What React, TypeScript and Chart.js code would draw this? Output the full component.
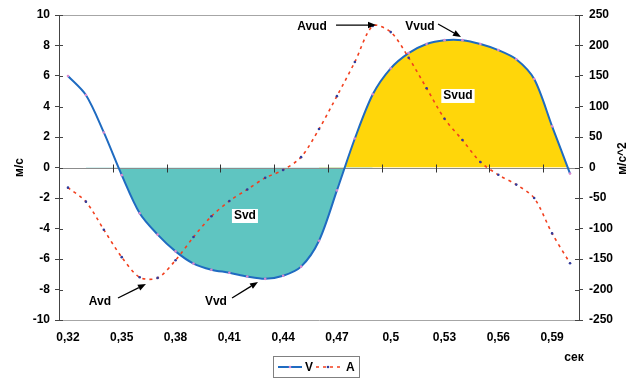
import React, { useEffect, useRef } from 'react';
import { Chart, registerables } from 'chart.js';

Chart.register(...registerables);

// ---- data ----
const categories = [
  '0,32', '0,33', '0,34', '0,35', '0,36', '0,37', '0,38', '0,39', '0,4', '0,41',
  '0,42', '0,43', '0,44', '0,45', '0,46', '0,47', '0,48', '0,49', '0,5', '0,51',
  '0,52', '0,53', '0,54', '0,55', '0,56', '0,57', '0,58', '0,59', '0,6',
];
const velocity = [
  6.0, 4.75, 2.3, -0.5, -3.0, -4.4, -5.5, -6.3, -6.7, -6.9,
  -7.15, -7.3, -7.1, -6.5, -4.8, -1.5, 1.9, 4.8, 6.5, 7.5,
  8.1, 8.35, 8.35, 8.1, 7.7, 7.1, 5.8, 2.7, -0.4,
];
const acceleration = [
  -33, -56, -102, -147, -180, -181, -152, -114, -80, -55,
  -36, -17, -4, 17, 63, 117, 173, 232, 222, 180,
  130, 80, 45, 9, -12, -28, -50, -108, -157,
];
const leftAxis = { min: -10, max: 10, step: 2, title: 'м/с' };
const rightAxis = { min: -250, max: 250, step: 50, title: 'м/с^2' };
const xTitle = 'сек';
const labelEvery = 3;
const seriesNames = ['V', 'A'];

// annotations, positioned in (category index, left-axis value)
const annotations = [
  { text: 'Svd', at: [9.87, -3.18], boxed: true },
  { text: 'Svud', at: [21.75, 4.69], boxed: true },
  { text: 'Avd', at: [1.78, -8.82], from: [2.79, -8.56], to: [4.35, -7.64] },
  { text: 'Vvd', at: [8.25, -8.82], from: [9.15, -8.56], to: [10.6, -7.5] },
  { text: 'Avud', at: [13.61, 9.21], from: [14.95, 9.34], to: [17.18, 9.34] },
  { text: 'Vvud', at: [19.63, 9.21], from: [20.64, 9.41], to: [21.92, 8.56] },
];

// ---- styles ----
const FONT = "'Liberation Sans', Arial, sans-serif";
const BLUE = '#1F6BC1';
const RED = '#F2401F';
const TEAL = '#5FC5C1';
const YELLOW = '#FFD60A';
const CLEAR = 'rgba(0,0,0,0)';

// fill helpers derived from velocity
const n = velocity.length;
const firstNeg = velocity.findIndex((v) => v < 0);
let lastNeg = firstNeg;
while (lastNeg + 1 < n && velocity[lastNeg + 1] < 0) lastNeg++;
const firstPos = lastNeg + 1;
const negFill = velocity.map((v, i) => (i >= firstNeg - 2 && i <= lastNeg + 2 ? v : null));
const posFill = velocity.map((v, i) => (i >= firstPos - 2 ? v : null));

const TENSION = 0.3;

function drawArrow(ctx: CanvasRenderingContext2D, x1: number, y1: number, x2: number, y2: number) {
  const ang = Math.atan2(y2 - y1, x2 - x1);
  const len = 8;
  const hw = 3.2;
  const bx = x2 - len * Math.cos(ang);
  const by = y2 - len * Math.sin(ang);
  ctx.strokeStyle = '#000';
  ctx.fillStyle = '#000';
  ctx.lineWidth = 1.3;
  ctx.beginPath();
  ctx.moveTo(x1, y1);
  ctx.lineTo(bx, by);
  ctx.stroke();
  ctx.beginPath();
  ctx.moveTo(x2, y2);
  ctx.lineTo(bx + hw * Math.sin(ang), by - hw * Math.cos(ang));
  ctx.lineTo(bx - hw * Math.sin(ang), by + hw * Math.cos(ang));
  ctx.closePath();
  ctx.fill();
}

const decorPlugin = {
  id: 'decor',
  beforeDatasetsDraw(chart: any) {
    const { ctx, chartArea: a, scales } = chart;
    const xs = scales.x;
    const ys = scales.y;
    ctx.save();
    ctx.lineWidth = 1;
    // top border
    ctx.strokeStyle = '#A6A6A6';
    ctx.beginPath();
    ctx.moveTo(a.left, Math.round(a.top) + 0.5);
    ctx.lineTo(a.right, Math.round(a.top) + 0.5);
    ctx.stroke();
    // zero (category) axis line
    const y0 = Math.round(ys.getPixelForValue(0)) + 0.5;
    ctx.strokeStyle = '#8C8C8C';
    ctx.beginPath();
    ctx.moveTo(a.left, y0);
    ctx.lineTo(a.right, y0);
    ctx.stroke();
    ctx.strokeStyle = '#333';
    for (let k = 1; k * labelEvery - 0.5 < categories.length; k++) {
      const px = Math.round(xs.getPixelForValue(k * labelEvery - 0.5)) + 0.5;
      ctx.beginPath();
      ctx.moveTo(px, y0 - 4);
      ctx.lineTo(px, y0 + 4);
      ctx.stroke();
    }
    // inner tick marks on value axes
    ctx.strokeStyle = '#444';
    for (let v = leftAxis.min; v <= leftAxis.max; v += leftAxis.step) {
      const py = Math.round(ys.getPixelForValue(v)) + 0.5;
      ctx.beginPath();
      ctx.moveTo(a.left, py);
      ctx.lineTo(a.left + 4, py);
      ctx.stroke();
    }
    const y2 = scales.y2;
    for (let v = rightAxis.min; v <= rightAxis.max; v += rightAxis.step) {
      const py = Math.round(y2.getPixelForValue(v)) + 0.5;
      ctx.beginPath();
      ctx.moveTo(a.right - 4, py);
      ctx.lineTo(a.right, py);
      ctx.stroke();
    }
    ctx.restore();
  },
  afterDraw(chart: any) {
    const { ctx, chartArea: a, scales } = chart;
    const xs = scales.x;
    const ys = scales.y;
    ctx.save();
    // axis titles
    ctx.fillStyle = '#000';
    ctx.font = `bold 12px ${FONT}`;
    ctx.textAlign = 'center';
    ctx.textBaseline = 'middle';
    ctx.save();
    ctx.translate(20, (a.top + a.bottom) / 2);
    ctx.rotate(-Math.PI / 2);
    ctx.fillText(leftAxis.title, 0, 0);
    ctx.restore();
    ctx.save();
    ctx.translate(623, (a.top + a.bottom) / 2 - 9);
    ctx.rotate(-Math.PI / 2);
    ctx.fillText(rightAxis.title, 0, 0);
    ctx.restore();
    ctx.fillText(xTitle, 574, 358);

    // annotations
    for (const an of annotations) {
      const px = xs.getPixelForValue(an.at[0]);
      const py = ys.getPixelForValue(an.at[1]);
      ctx.font = `bold 12px ${FONT}`;
      if (an.boxed) {
        const w = ctx.measureText(an.text).width;
        ctx.fillStyle = '#fff';
        ctx.fillRect(px - w / 2 - 2, py - 7, w + 4, 14);
      }
      ctx.fillStyle = '#000';
      ctx.textAlign = 'center';
      ctx.textBaseline = 'middle';
      ctx.fillText(an.text, px, py);
      if (an.from && an.to) {
        drawArrow(
          ctx,
          xs.getPixelForValue(an.from[0]),
          ys.getPixelForValue(an.from[1]),
          xs.getPixelForValue(an.to[0]),
          ys.getPixelForValue(an.to[1])
        );
      }
    }

    // legend
    const lx = 273.5, ly = 356.5, lw = 86, lh = 21;
    ctx.fillStyle = '#fff';
    ctx.fillRect(lx, ly, lw, lh);
    ctx.strokeStyle = '#808080';
    ctx.lineWidth = 1;
    ctx.strokeRect(lx, ly, lw, lh);
    const cy = ly + lh / 2;
    ctx.strokeStyle = BLUE;
    ctx.lineWidth = 2;
    ctx.beginPath();
    ctx.moveTo(278, cy);
    ctx.lineTo(302, cy);
    ctx.stroke();
    ctx.fillStyle = '#D98AD0';
    ctx.beginPath();
    ctx.arc(290, cy, 1.3, 0, Math.PI * 2);
    ctx.fill();
    ctx.strokeStyle = RED;
    ctx.lineWidth = 1.6;
    ctx.setLineDash([3, 4]);
    ctx.beginPath();
    ctx.moveTo(316, cy);
    ctx.lineTo(341, cy);
    ctx.stroke();
    ctx.setLineDash([]);
    ctx.fillStyle = '#303C9C';
    ctx.beginPath();
    ctx.arc(328, cy, 1.3, 0, Math.PI * 2);
    ctx.fill();
    ctx.fillStyle = '#000';
    ctx.font = `bold 12px ${FONT}`;
    ctx.textAlign = 'left';
    ctx.textBaseline = 'middle';
    ctx.fillText(seriesNames[0], 305, cy + 0.5);
    ctx.fillText(seriesNames[1], 346, cy + 0.5);
    ctx.restore();
  },
};

export default function App() {
  const ref = useRef<HTMLCanvasElement>(null);
  useEffect(() => {
    const chart = new Chart(ref.current as HTMLCanvasElement, {
      type: 'line',
      data: {
        labels: categories,
        datasets: [
          {
            label: seriesNames[1],
            data: acceleration,
            yAxisID: 'y2',
            borderColor: RED,
            borderWidth: 1.6,
            borderDash: [3, 4],
            tension: TENSION,
            fill: false,
            pointRadius: 1.3,
            pointBorderWidth: 0,
            pointBackgroundColor: '#303C9C',
          },
          {
            label: seriesNames[0],
            data: velocity,
            yAxisID: 'y',
            borderColor: BLUE,
            borderWidth: 2,
            tension: TENSION,
            fill: false,
            pointRadius: 1.3,
            pointBorderWidth: 0,
            pointBackgroundColor: '#D98AD0',
          },
          {
            label: 'neg',
            data: negFill,
            yAxisID: 'y',
            borderWidth: 0,
            borderColor: CLEAR,
            pointRadius: 0,
            tension: TENSION,
            fill: { target: { value: 0 }, above: CLEAR, below: TEAL },
          },
          {
            label: 'pos',
            data: posFill,
            yAxisID: 'y',
            borderWidth: 0,
            borderColor: CLEAR,
            pointRadius: 0,
            tension: TENSION,
            fill: { target: { value: 0 }, above: YELLOW, below: CLEAR },
          },
        ],
      },
      options: {
        animation: false,
        responsive: false,
        devicePixelRatio: 1,
        events: [],
        layout: { padding: { top: 15, left: 0, right: 0, bottom: 0 } },
        plugins: {
          legend: { display: false },
          tooltip: { enabled: false },
          filler: { drawTime: 'beforeDatasetsDraw' },
        },
        scales: {
          x: {
            type: 'category',
            offset: true,
            grid: { display: false, drawTicks: false },
            border: { display: true, color: '#A6A6A6', width: 1 },
            ticks: {
              autoSkip: false,
              maxRotation: 0,
              minRotation: 0,
              padding: 10,
              color: '#000',
              font: { family: FONT, size: 12, weight: 'bold' },
              callback: (_v: any, i: number) => (i % labelEvery === 0 ? categories[i] : ''),
            },
            afterFit: (s: any) => {
              s.height = 59;
            },
          },
          y: {
            position: 'left',
            min: leftAxis.min,
            max: leftAxis.max,
            grid: { drawOnChartArea: false, drawTicks: true, tickLength: 4, color: '#444' },
            border: { display: true, color: '#444', width: 1 },
            ticks: {
              stepSize: leftAxis.step,
              padding: 5,
              color: '#000',
              font: { family: FONT, size: 12, weight: 'bold' },
            },
            afterFit: (s: any) => {
              s.width = 59;
            },
          },
          y2: {
            position: 'right',
            min: rightAxis.min,
            max: rightAxis.max,
            grid: { drawOnChartArea: false, drawTicks: true, tickLength: 4, color: '#444' },
            border: { display: true, color: '#444', width: 1 },
            ticks: {
              stepSize: rightAxis.step,
              padding: 6,
              color: '#000',
              font: { family: FONT, size: 12, weight: 'bold' },
            },
            afterFit: (s: any) => {
              s.width = 49;
            },
          },
        },
      } as any,
      plugins: [decorPlugin],
    });
    return () => chart.destroy();
  }, []);
  return (
    <div style={{ position: 'absolute', left: 0, top: 0, width: 628, height: 379, background: '#fff' }}>
      <canvas ref={ref} width={628} height={379} style={{ display: 'block' }} />
    </div>
  );
}
